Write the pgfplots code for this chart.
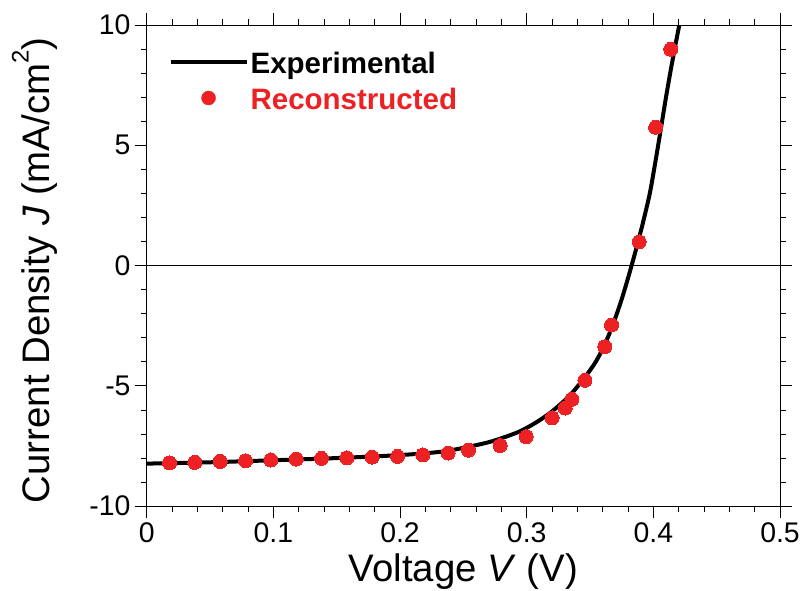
\documentclass[border=0pt]{standalone}
\usepackage{pgfplots}
\pgfplotsset{compat=1.18}
\usepackage{fontspec}
\setmainfont{Liberation Sans}
\definecolor{recred}{RGB}{237,32,36}
\begin{document}
\begin{tikzpicture}
\begin{axis}[
  scale only axis, width=633bp, height=481bp,
  xmin=0, xmax=0.5, ymin=-10, ymax=10,
  xtick={0,0.1,0.2,0.3,0.4,0.5},
  ytick={-10,-5,0,5,10},
  minor x tick num=4, minor y tick num=4,
  tick align=outside,
  major tick length=12bp, minor tick length=6bp,
  every tick/.style={black, line width=0.8bp},
  axis line style={line width=1bp},
  /pgf/number format/assume math mode=true,
  ticklabel style={font=\fontsize{28.5}{34}\selectfont, inner sep=0pt},
  xticklabel style={yshift=-4bp},
  yticklabel style={xshift=-4bp},
  every axis x label/.style={at={(axis description cs:0.5,-0.1559)}, anchor=base},
  every axis y label/.style={at={(axis description cs:-0.1532,0.49)}, rotate=90, anchor=base},
  label style={font=\fontsize{38.5}{46}\selectfont},
  xlabel={Voltage \textit{V} (V)},
  ylabel={Current Density \textit{J} (mA/cm\raisebox{0.55em}{\fontsize{24}{28}\selectfont 2})},
  legend style={draw=none, fill=none, at={(0,1)}, anchor=north west, xshift=21.6bp, yshift=-27.5bp,
    font=\fontsize{29.6}{35}\selectfont\bfseries, inner sep=0pt,
    nodes={inner sep=0pt, text height=20.5bp, text depth=6bp},
    row sep=9.5bp,
    /tikz/every odd column/.append style={column sep=2bp}},
  legend cell align=left,
]
\addplot[black, line width=0.8bp, forget plot] coordinates {(0,0) (0.5,0)};
\addplot[black, line width=4bp, smooth, tension=0.5,
  legend image code/.code={\draw[black, line width=4bp] (0bp,4bp) -- (76bp,4bp);}]
coordinates {
(0,-8.23) (0.03,-8.20) (0.06,-8.16) (0.1,-8.09) (0.14,-8.02) (0.18,-7.93)
(0.21,-7.84) (0.235,-7.72) (0.255,-7.52) (0.27,-7.34) (0.282,-7.14)
(0.295,-6.88) (0.308,-6.50) (0.32,-6.06) (0.334,-5.40) (0.3465,-4.6)
(0.3545,-4.0) (0.3605,-3.4) (0.3655,-2.8) (0.3705,-2.1) (0.3750,-1.4)
(0.3790,-0.7) (0.3828,0) (0.3880,1.0) (0.3928,2.0) (0.3972,3.0)
(0.4006,4.0) (0.4038,5.0) (0.4069,6.0) (0.4100,7.0) (0.4133,8.0)
(0.4168,9.0) (0.4205,10.0)
};
\addlegendentry{Experimental}
\addplot[only marks, mark=*, mark size=7bp, color=recred, mark options={draw=recred, fill=recred, line width=0pt},
  legend image code/.code={\path (0bp,0bp) (76bp,0bp); \fill[recred] (38bp,4bp) circle[radius=7bp];}]
coordinates {
(0.018,-8.20) (0.038,-8.18) (0.058,-8.14) (0.078,-8.11) (0.098,-8.08)
(0.118,-8.04) (0.138,-8.01) (0.158,-7.99) (0.178,-7.96) (0.198,-7.93)
(0.218,-7.87) (0.238,-7.79) (0.254,-7.67) (0.279,-7.48) (0.2996,-7.11)
(0.3201,-6.33) (0.3304,-5.92) (0.3357,-5.56) (0.346,-4.77) (0.3617,-3.37)
(0.3670,-2.47) (0.3888,0.99) (0.4018,5.75) (0.4137,8.99)
};
\addlegendentry{\textcolor{recred}{Reconstructed}}
\end{axis}
\pgfresetboundingbox
\path ([shift={(-146.7bp,-84.3bp)}]current axis.south west) rectangle ([shift={(22bp,25bp)}]current axis.north east);
\end{tikzpicture}
\end{document}
